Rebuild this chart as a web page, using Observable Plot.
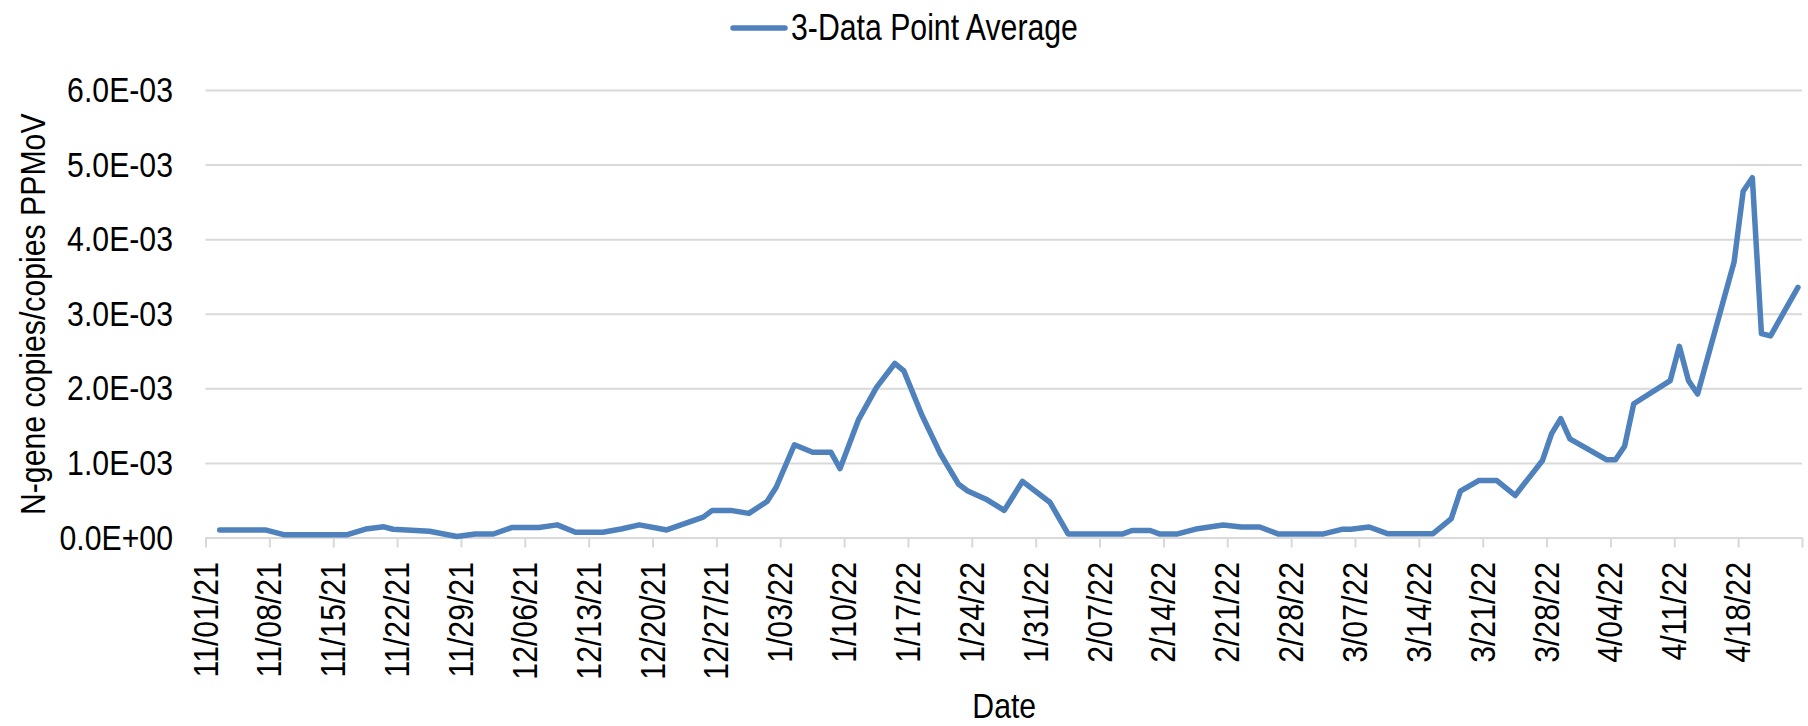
<!DOCTYPE html>
<html>
<head>
<meta charset="utf-8">
<script src="https://cdn.jsdelivr.net/npm/d3@7"></script>
<script src="https://cdn.jsdelivr.net/npm/@observablehq/plot@0.6"></script>
<style>
  html, body { margin: 0; padding: 0; background: #fff; }
  #legend {
    height: 55px; display: flex; align-items: center; justify-content: center;
    font-family: "Liberation Sans", Arial, sans-serif;
    font-size: 36px; line-height: 36px; color: #000;
  }
  #legend svg { margin-right: 3px; }
  #legend span { display: inline-block; transform-origin: 0 50%; white-space: nowrap; }
</style>
</head>
<body>
<div id="legend"></div>
<div id="chart"></div>
<script>
const seriesName = "3-Data Point Average";
const yTitle = "N-gene copies/copies PPMoV";
const xTitle = "Date";

const sampleDates = [
  "2021-11-02","2021-11-07","2021-11-09","2021-11-16","2021-11-18","2021-11-20","2021-11-21",
  "2021-11-25","2021-11-28","2021-11-30","2021-12-02","2021-12-04","2021-12-07","2021-12-09",
  "2021-12-11","2021-12-14","2021-12-16","2021-12-18","2021-12-20","2021-12-21","2021-12-25",
  "2021-12-26","2021-12-28","2021-12-30","2022-01-01","2022-01-02","2022-01-04","2022-01-06",
  "2022-01-08","2022-01-09","2022-01-11","2022-01-13","2022-01-15","2022-01-16","2022-01-18",
  "2022-01-20","2022-01-22","2022-01-23","2022-01-25","2022-01-27","2022-01-29","2022-02-01",
  "2022-02-03","2022-02-09","2022-02-10","2022-02-12","2022-02-13","2022-02-15","2022-02-17",
  "2022-02-20","2022-02-22","2022-02-24","2022-02-26","2022-03-03","2022-03-05","2022-03-06",
  "2022-03-08","2022-03-10","2022-03-15","2022-03-17","2022-03-18","2022-03-20","2022-03-22",
  "2022-03-24","2022-03-27","2022-03-28","2022-03-29","2022-03-30","2022-04-03","2022-04-04",
  "2022-04-05","2022-04-06","2022-04-10","2022-04-11","2022-04-12","2022-04-13","2022-04-17",
  "2022-04-18","2022-04-19","2022-04-20","2022-04-21","2022-04-24"
];
const avgValues = [
  0.108e-3,0.108e-3,0.045e-3,0.045e-3,0.12e-3,0.15e-3,0.117e-3,
  0.09e-3,0.02e-3,0.054e-3,0.054e-3,0.14e-3,0.14e-3,0.176e-3,
  0.077e-3,0.077e-3,0.12e-3,0.176e-3,0.13e-3,0.108e-3,0.28e-3,
  0.37e-3,0.37e-3,0.33e-3,0.49e-3,0.68e-3,1.25e-3,1.15e-3,
  1.15e-3,0.93e-3,1.58e-3,2.02e-3,2.34e-3,2.24e-3,1.64e-3,
  1.13e-3,0.72e-3,0.63e-3,0.52e-3,0.37e-3,0.76e-3,0.48e-3,
  0.055e-3,0.055e-3,0.10e-3,0.10e-3,0.055e-3,0.055e-3,0.12e-3,
  0.175e-3,0.148e-3,0.148e-3,0.055e-3,0.055e-3,0.116e-3,0.116e-3,
  0.147e-3,0.058e-3,0.058e-3,0.26e-3,0.63e-3,0.77e-3,0.77e-3,
  0.57e-3,1.04e-3,1.40e-3,1.60e-3,1.33e-3,1.05e-3,1.05e-3,
  1.23e-3,1.80e-3,2.11e-3,2.57e-3,2.11e-3,1.93e-3,3.70e-3,
  4.65e-3,4.83e-3,2.74e-3,2.71e-3,3.36e-3
];

const xTickDates = [
  "2021-11-01","2021-11-08","2021-11-15","2021-11-22","2021-11-29","2021-12-06","2021-12-13",
  "2021-12-20","2021-12-27","2022-01-03","2022-01-10","2022-01-17","2022-01-24","2022-01-31",
  "2022-02-07","2022-02-14","2022-02-21","2022-02-28","2022-03-07","2022-03-14","2022-03-21",
  "2022-03-28","2022-04-04","2022-04-11","2022-04-18","2022-04-25"
];
const xTickLabels = [
  "11/01/21","11/08/21","11/15/21","11/22/21","11/29/21","12/06/21","12/13/21",
  "12/20/21","12/27/21","1/03/22","1/10/22","1/17/22","1/24/22","1/31/22",
  "2/07/22","2/14/22","2/21/22","2/28/22","3/07/22","3/14/22","3/21/22",
  "3/28/22","4/04/22","4/11/22","4/18/22",""
];
const yTicks = [0, 0.001, 0.002, 0.003, 0.004, 0.005, 0.006];
const yTickLabels = ["0.0E+00","1.0E-03","2.0E-03","3.0E-03","4.0E-03","5.0E-03","6.0E-03"];

const FONT = '"Liberation Sans", Arial, sans-serif';
const NARROW = 0.84; // approximates Arial Narrow with the installed Liberation Sans
const LINE = "#4F81BD";
const GRID = "#d9d9d9";

// Excel date axis with "between tick marks": each day's point sits mid-day.
const data = sampleDates.map((d, i) => ({date: new Date(d + "T12:00:00Z"), value: avgValues[i]}));
const tickDates = xTickDates.map(d => new Date(d + "T00:00:00Z"));
const xLabelByTime = new Map(tickDates.map((d, i) => [+d, xTickLabels[i]]));
const yLabelFor = v => yTickLabels[yTicks.findIndex(t => Math.abs(t - v) < 1e-12)];

// Legend
const legend = document.getElementById("legend");
legend.innerHTML =
  `<svg width="58" height="12"><line x1="3" y1="6" x2="55" y2="6" stroke="${LINE}" stroke-width="5.5" stroke-linecap="round"/></svg><span>${seriesName}</span>`;
const span = legend.querySelector("span");
span.style.transform = `scaleX(${NARROW})`;
span.style.marginRight = (-(1 - NARROW) * span.offsetWidth) + "px";

const chart = Plot.plot({
  width: 1808,
  height: 671,
  marginLeft: 205.5,
  marginRight: 6,
  marginTop: 35,
  marginBottom: 188.5,
  style: {fontFamily: FONT, fontSize: "36px", color: "#000", background: "#fff", overflow: "visible"},
  x: {type: "utc", domain: [tickDates[0], tickDates[tickDates.length - 1]]},
  y: {domain: [0, 0.006]},
  marks: [
    Plot.gridY(yTicks, {stroke: GRID, strokeOpacity: 1, strokeWidth: 2}),
    Plot.ruleY([0], {stroke: GRID, strokeWidth: 2}),
    Plot.axisY(yTicks, {
      tickSize: 0, tickPadding: 33, tickFormat: yLabelFor,
      label: yTitle, labelAnchor: "center", labelArrow: "none", labelOffset: 187
    }),
    Plot.axisX(tickDates, {
      tickSize: 10, tickPadding: 14, tickRotate: -90, stroke: GRID, strokeWidth: 2, strokeOpacity: 1,
      tickFormat: d => xLabelByTime.get(+d),
      label: xTitle, labelAnchor: "center", labelArrow: "none", labelOffset: 180
    }),
    Plot.line(data, {
      x: "date", y: "value", stroke: LINE, strokeWidth: 5.5,
      strokeLinejoin: "round", strokeLinecap: "round"
    })
  ]
});

// Condense every text along its own reading direction, around its anchor point.
chart.querySelectorAll("text").forEach(t => {
  const tr = t.getAttribute("transform");
  if (tr) t.setAttribute("transform", `${tr} scale(${NARROW},1)`);
});
document.getElementById("chart").appendChild(chart);
</script>
</body>
</html>
